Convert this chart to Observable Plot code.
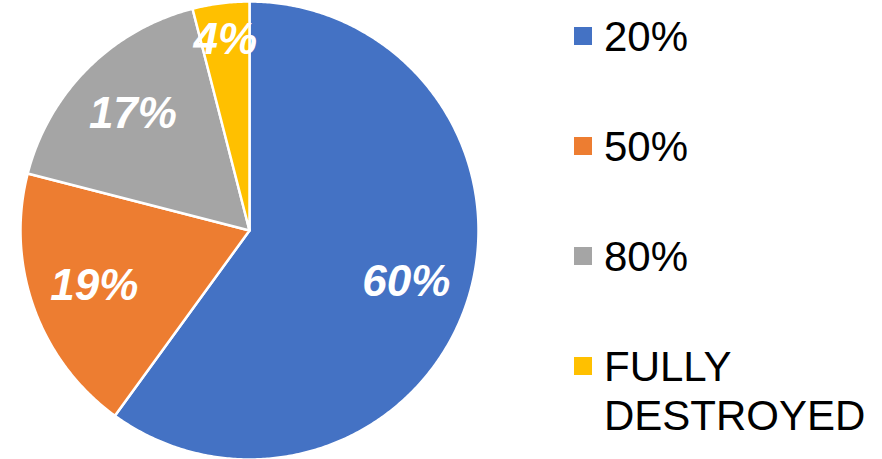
<!DOCTYPE html>
<html>
<head>
<meta charset="utf-8">
<script src="https://cdn.jsdelivr.net/npm/d3@7"></script>
<script src="https://cdn.jsdelivr.net/npm/@observablehq/plot@0.6"></script>
<style>
  html, body { margin: 0; padding: 0; background: #fff; }
  #wrap { position: relative; width: 882px; height: 459px; overflow: hidden; }
  #wrap svg { position: absolute; left: 0; top: 0; }
  .legend { position: absolute; left: 574px; top: 12px; font-family: "Liberation Sans", Arial, sans-serif; font-size: 42px; line-height: 49px; color: #000; }
  .item { position: absolute; left: 0; display: flex; align-items: flex-start; white-space: pre; }
  .sw { width: 18px; height: 18px; margin-top: 15px; margin-right: 12px; flex: none; }
</style>
</head>
<body>
<div id="wrap"></div>
<script>
const categories = ["20%", "50%", "80%", "FULLY DESTROYED"];
const legendLabels = ["20%", "50%", "80%", "FULLY\nDESTROYED"];
const values = [60, 19, 17, 4];
const sliceLabels = ["60%", "19%", "17%", "4%"];
const colors = ["#4472C4", "#ED7D31", "#A5A5A5", "#FFC000"];

const data = categories.map((c, i) => ({cat: c, value: values[i], label: sliceLabels[i]}));
const arcs = d3.pie().sort(null).value(d => d.value).startAngle(0).endAngle(2 * Math.PI)(data);

// polygon outline of each slice (angle clockwise from 12 o'clock)
const pts = [];
for (const a of arcs) {
  pts.push({cat: a.data.cat, x: 0, y: 0});
  const n = Math.max(2, Math.ceil((a.endAngle - a.startAngle) / (Math.PI / 360)));
  for (let k = 0; k <= n; k++) {
    const t = a.startAngle + (a.endAngle - a.startAngle) * k / n;
    pts.push({cat: a.data.cat, x: Math.sin(t), y: Math.cos(t)});
  }
}
const labelPts = arcs.map(a => {
  const t = (a.startAngle + a.endAngle) / 2;
  const share = a.value / d3.sum(values);
  const r = share < 0.06 ? 0.84 : 0.72;
  return {label: a.data.label, x: r * Math.sin(t), y: r * Math.cos(t)};
});

const chart = Plot.plot({
  width: 882,
  height: 459,
  marginLeft: 20,
  marginRight: 404,
  marginTop: 1,
  marginBottom: 0,
  x: {domain: [-1, 1], axis: null},
  y: {domain: [-1, 1], axis: null},
  color: {domain: categories, range: colors},
  marks: [
    Plot.line(pts, {x: "x", y: "y", z: "cat", fill: "cat", stroke: "white", strokeWidth: 2.5, strokeLinejoin: "round", curve: "linear-closed"}),
    Plot.text(labelPts, {x: "x", y: "y", text: "label", fill: "white", fontSize: 44, fontWeight: "bold", fontStyle: "italic", fontFamily: "'Liberation Sans', Arial, sans-serif"})
  ]
});
document.getElementById("wrap").appendChild(chart);

const legend = document.createElement("div");
legend.className = "legend";
legendLabels.forEach((lab, i) => {
  const item = document.createElement("div");
  item.className = "item";
  item.style.top = (i * 110) + "px";
  const sw = document.createElement("div");
  sw.className = "sw";
  sw.style.background = colors[i];
  const tx = document.createElement("div");
  tx.textContent = lab;
  item.appendChild(sw);
  item.appendChild(tx);
  legend.appendChild(item);
});
document.getElementById("wrap").appendChild(legend);
</script>
</body>
</html>
